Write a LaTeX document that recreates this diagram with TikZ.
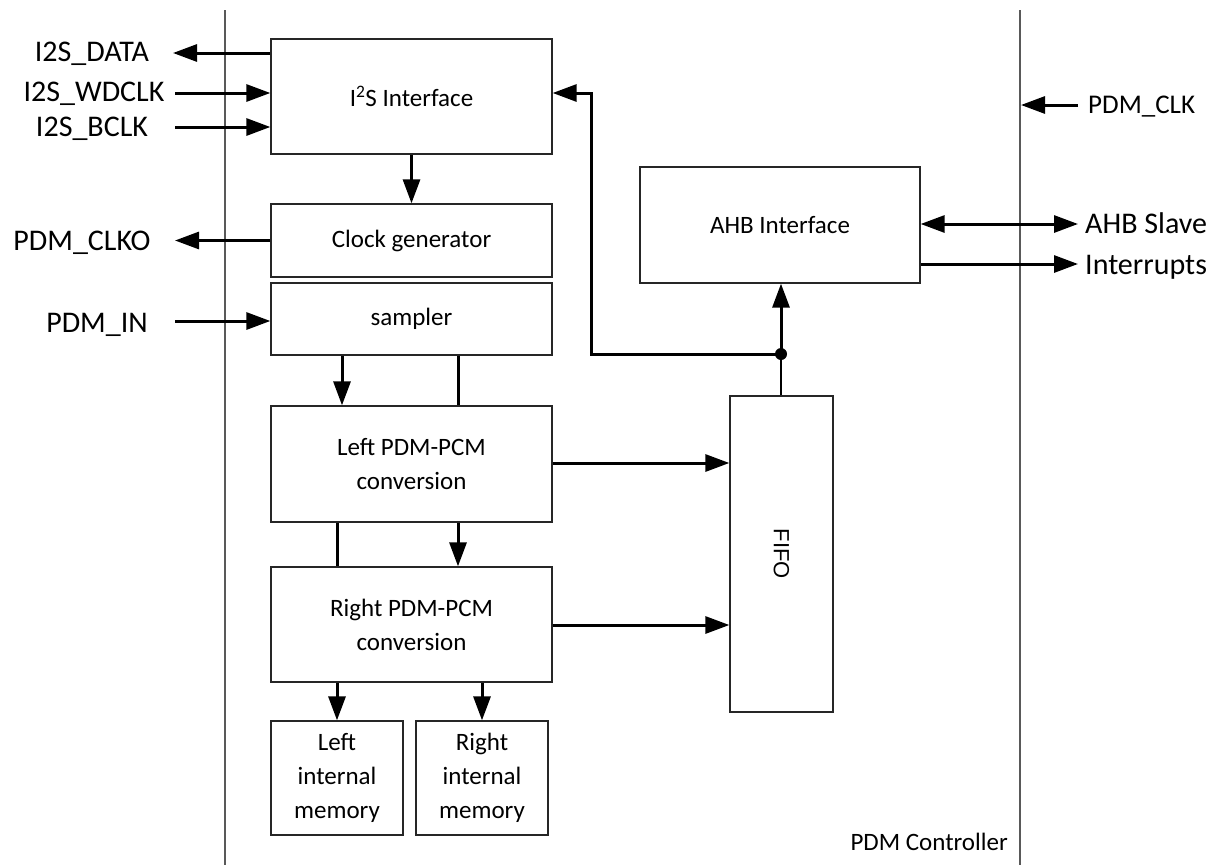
\documentclass[tikz,border=0pt]{standalone}
\usepackage{fontspec}
\setmainfont{Carlito}
\newfontfamily\arialf{Liberation Sans}
\usetikzlibrary{arrows.meta}
\begin{document}
\begin{tikzpicture}[x=1pt,y=-1pt,
  blk/.style={draw=black!85, line width=1.3pt, fill=white, inner sep=0pt, align=center,
              font=\fontsize{25}{34}\selectfont},
  tip/.tip={Triangle[length=24pt,width=17pt]},
  conn/.style={line width=3pt, -tip},
  plainline/.style={line width=3pt},
  sig/.style={font=\fontsize{30}{34}\selectfont, inner sep=0pt, text height=19.3pt, text depth=0pt},
  border/.style={line width=1.3pt, draw=black!65},
]
\useasboundingbox (0,0) rectangle (1220,865);

% controller borders
\coordinate (bl1) at (225,10);
\coordinate (bl2) at (225,865);
\coordinate (br1) at (1020,10);
\coordinate (br2) at (1020,865);
\draw[border] (bl1) -- (bl2);
\draw[border] (br1) -- (br2);

% blocks
\node[blk, minimum width=281pt, minimum height=115pt] (i2s) at (411.5,96.5) {I\textsuperscript{2}S Interface};
\node[blk, minimum width=281pt, minimum height=73pt] (clk) at (411.5,240.5) {Clock generator};
\node[blk, minimum width=281pt, minimum height=72pt] (smp) at (411.5,319) {sampler};
\node[blk, minimum width=281pt, minimum height=116pt] (lpdm) at (411.5,464) {Left PDM-PCM\\conversion};
\node[blk, minimum width=281pt, minimum height=115pt] (rpdm) at (411.5,624.5) {Right PDM-PCM\\conversion};
\node[blk, minimum width=132pt, minimum height=114pt] (lmem) at (337,778) {Left\\internal\\memory};
\node[blk, minimum width=132pt, minimum height=114pt] (rmem) at (482,778) {Right\\internal\\memory};
\node[blk, minimum width=280pt, minimum height=116pt] (ahb) at (780,225) {AHB Interface};
\node[blk, minimum width=103pt, minimum height=316pt] (fifo) at (781.5,554) {};
\node[rotate=-90, inner sep=0pt, font=\arialf\fontsize{22}{26}\selectfont] (fifot) at (fifo.center) {FIFO};

% outside labels
\node[sig] (ldata) at (92,52) {I2S\_DATA};
\node[sig] (lwd) at (94,92) {I2S\_WDCLK};
\node[sig] (lbclk) at (92,127) {I2S\_BCLK};
\node[sig] (lclko) at (82,241) {PDM\_CLKO};
\node[sig] (lin) at (97,323) {PDM\_IN};
\node[sig, anchor=west] (lslave) at (1085,224) {AHB Slave};
\node[sig, anchor=west] (lint) at (1085,265) {Interrupts};
\node[inner sep=0pt, anchor=west, font=\fontsize{27}{30}\selectfont, text height=17.4pt, text depth=0pt] (lpclk) at (1088,105) {PDM\_CLK};
\node[inner sep=0pt, anchor=east, font=\fontsize{25}{30}\selectfont] (lctrl) at (1008,842) {PDM Controller};

% signal end points
\coordinate (eData) at (173,53);
\coordinate (eWd) at (175,93);
\coordinate (eBclk) at (175,127);
\coordinate (eClko) at (175,240.5);
\coordinate (eIn) at (175,321);
\coordinate (eSlave) at (1078,224);
\coordinate (eInt) at (1078,264);
\coordinate (ePclkS) at (1078,105);
\coordinate (ePclkE) at (1021,105);

\draw[conn] (i2s.west |- eData) -- (eData);
\draw[conn] (eWd) -- (i2s.west |- eWd);
\draw[conn] (eBclk) -- (i2s.west |- eBclk);
\draw[conn] (clk.west) -- (eClko);
\draw[conn] (eIn) -- (smp.west |- eIn);
\draw[conn] (ePclkS) -- (ePclkE);
\draw[line width=3pt, tip-tip] (ahb.east |- eSlave) -- (eSlave);
\draw[conn] (ahb.east |- eInt) -- (eInt);

% internal flow
\draw[conn] (i2s.south) -- (clk.north);
\coordinate (xa) at (342,0);
\coordinate (xb) at (458,0);
\coordinate (xc) at (337,0);
\coordinate (xd) at (482,0);
\draw[conn] (smp.south -| xa) -- (lpdm.north -| xa);
\draw[plainline] (smp.south -| xb) -- (lpdm.north -| xb);
\draw[plainline] (lpdm.south -| xc) -- (rpdm.north -| xc);
\draw[conn] (lpdm.south -| xb) -- (rpdm.north -| xb);
\draw[conn] (rpdm.south -| xc) -- (lmem.north -| xc);
\draw[conn] (rpdm.south -| xd) -- (rmem.north -| xd);

\coordinate (yl) at (0,463);
\coordinate (yr) at (0,625);
\draw[conn] (lpdm.east |- yl) -- (fifo.west |- yl);
\draw[conn] (rpdm.east |- yr) -- (fifo.west |- yr);

% FIFO to AHB and I2S
\coordinate (dot) at (781,354);
\coordinate (xe) at (591,0);
\coordinate (yi) at (0,93);
\draw[line width=2pt] (fifo.north -| dot) -- (dot);
\draw[conn] (dot) -- (ahb.south -| dot);
\draw[conn] (dot) -| (xe |- yi) -- (i2s.east |- yi);
\fill (dot) circle (6pt);
\end{tikzpicture}
\end{document}
